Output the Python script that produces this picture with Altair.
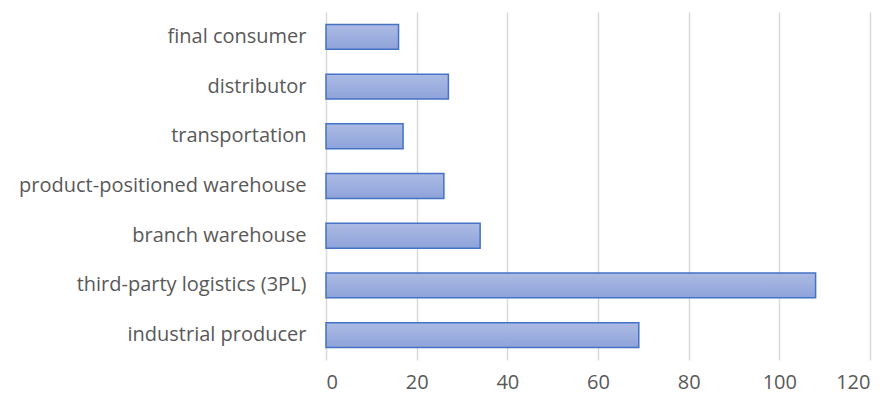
import altair as alt
import pandas as pd

categories = [
    "final consumer",
    "distributor",
    "transportation",
    "product-positioned warehouse",
    "branch warehouse",
    "third-party logistics (3PL)",
    "industrial producer",
]
values = [16, 27, 17, 26, 34, 108, 69]
x_ticks = [0, 20, 40, 60, 80, 100, 120]

df = pd.DataFrame({"category": categories, "value": values})

gradient = alt.Gradient(
    gradient="linear",
    stops=[
        alt.GradientStop(color="#acbbe4", offset=0),
        alt.GradientStop(color="#8ea3da", offset=1),
    ],
    x1=0, x2=0, y1=0, y2=1,
)

chart = (
    alt.Chart(df)
    .mark_bar(fill=gradient, stroke="#4472c4", strokeWidth=1.5)
    .encode(
        x=alt.X(
            "value:Q",
            scale=alt.Scale(domain=[0, 120], nice=False),
            axis=alt.Axis(
                values=x_ticks,
                title=None,
                grid=True,
                gridColor="#d9d9d9",
                gridWidth=1.5,
                domain=False,
                ticks=False,
                labelFont="Open Sans",
                labelFontSize=20,
                labelColor="#595959",
                labelPadding=12,
            ),
        ),
        y=alt.Y(
            "category:N",
            sort=categories,
            scale=alt.Scale(paddingInner=0.5, paddingOuter=0.25),
            axis=alt.Axis(
                title=None,
                domain=False,
                ticks=False,
                grid=False,
                labelFont="Open Sans",
                labelFontSize=20,
                labelColor="#595959",
                labelPadding=20,
                labelLimit=400,
            ),
        ),
    )
    .properties(
        width=544,
        height=348,
        autosize=alt.AutoSizeParams(type="none"),
        padding={"left": 318, "top": 4, "right": 10, "bottom": 36},
    )
    .configure_view(stroke=None)
)

chart.save("out.html", embed_options={"renderer": "svg", "actions": False})
